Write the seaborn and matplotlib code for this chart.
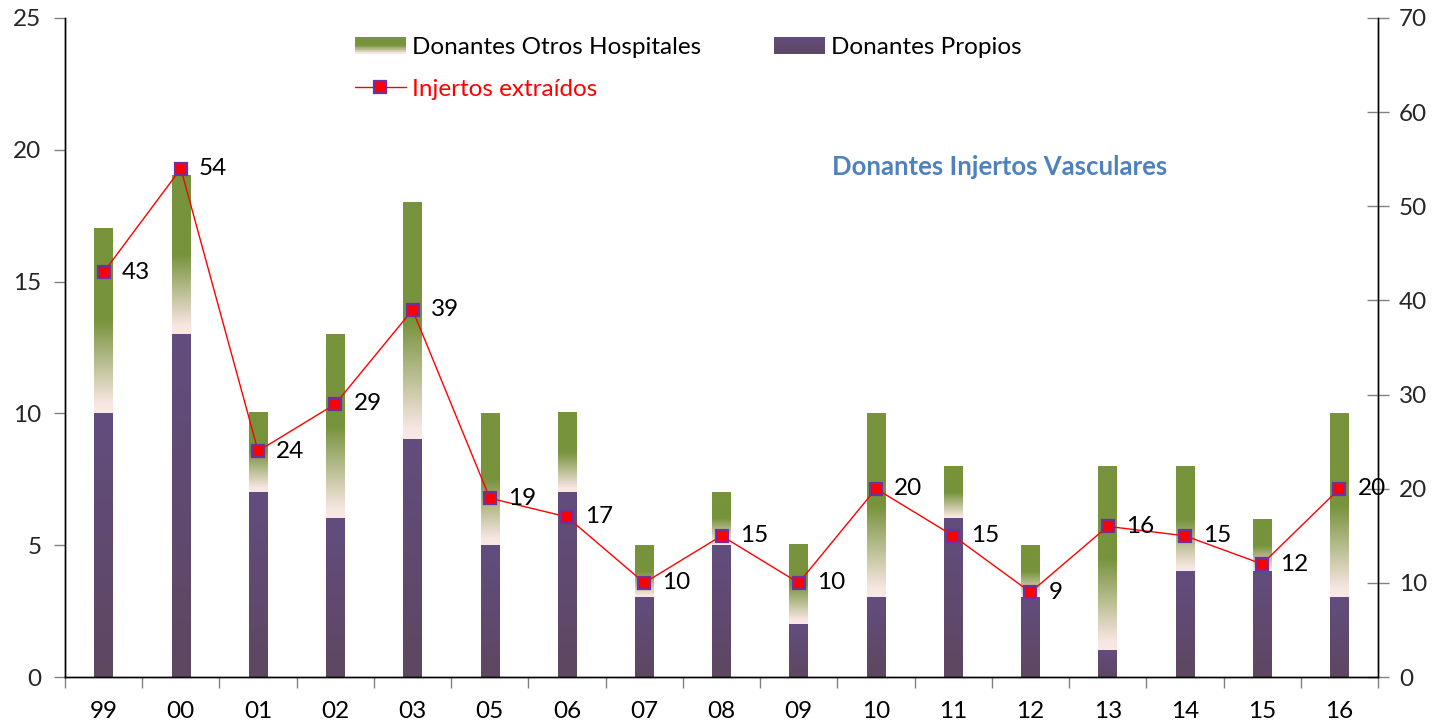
import numpy as np
import pandas as pd
import matplotlib
matplotlib.use("Agg")
import matplotlib.pyplot as plt
import seaborn as sns
from matplotlib.colors import LinearSegmentedColormap
from matplotlib.legend_handler import HandlerBase
from matplotlib.patches import Rectangle
from matplotlib.lines import Line2D

# Donors per year and grafts extracted
years = ["99", "00", "01", "02", "03", "05", "06", "07", "08",
         "09", "10", "11", "12", "13", "14", "15", "16"]
propios = [10, 13, 7, 6, 9, 5, 7, 3, 5, 2, 3, 6, 3, 1, 4, 4, 3]
otros = [7, 6, 3, 7, 9, 5, 3, 2, 2, 3, 7, 2, 2, 7, 4, 2, 7]
injertos = [43, 54, 24, 29, 39, 19, 17, 10, 15, 10, 20, 15, 9, 16, 15, 12, 20]

GREEN = "#77933C"
PURPLE = "#604C7C"
FS = 17.5

green_cmap = LinearSegmentedColormap.from_list(
    "green_fade",
    [(0.0, GREEN), (0.5, GREEN), (0.95, "#F8E6E2"), (1.0, "#F8E8E4")])
purple_cmap = LinearSegmentedColormap.from_list(
    "purple_fade", [(0.0, "#624D7F"), (1.0, "#5E4760")])

sns.set_theme(style="white")
plt.rcParams["font.family"] = ["Lato", "DejaVu Sans"]

W, H = 1436, 727
fig = plt.figure(figsize=(W / 100, H / 100), dpi=100)
ax = fig.add_axes([65 / W, 1 - 677 / H, (1378 - 65) / W, (677 - 18) / H])

df = pd.DataFrame({
    "year": years,
    "propios": propios,
    "total": np.add(propios, otros),
})
n = len(years)

sns.barplot(data=df, x="year", y="total", color=GREEN, width=0.24,
            saturation=1, errorbar=None, ax=ax)
green_patches = list(ax.patches[:n])
sns.barplot(data=df, x="year", y="propios", color=PURPLE, width=0.24,
            saturation=1, errorbar=None, ax=ax)
purple_patches = list(ax.patches[n:2 * n])

grad = np.linspace(0, 1, 256).reshape(-1, 1)


def gradient_fill(patch, cmap, bottom):
    x0 = patch.get_x()
    w = patch.get_width()
    top = patch.get_y() + patch.get_height()
    ax.imshow(grad, cmap=cmap, extent=(x0, x0 + w, bottom, top),
              origin="upper", aspect="auto", interpolation="bilinear",
              zorder=2)
    patch.set_facecolor("none")
    patch.set_edgecolor("none")


for gp, pp in zip(green_patches, purple_patches):
    gradient_fill(gp, green_cmap, pp.get_y() + pp.get_height())
    gradient_fill(pp, purple_cmap, pp.get_y())

ax.set_xlim(-0.5, n - 0.5)
ax.set_ylim(0, 25)
ax.set_yticks(range(0, 26, 5))
ax.set_xlabel("")
ax.set_ylabel("")
ax.set_xticks(np.arange(n))
ax.set_xticklabels(years)
ax.set_xticks(np.arange(n + 1) - 0.5, minor=True)
ax.tick_params(axis="x", which="major", length=0, labelsize=FS, pad=17,
               colors="black")
ax.tick_params(axis="x", which="minor", length=8, width=1, direction="out",
               bottom=True, color="#808080")
ax.tick_params(axis="y", left=True, length=8, width=1, direction="out",
               labelsize=FS, pad=9, color="#808080")

# Grafts on the secondary axis
ax2 = ax.twinx()
sns.lineplot(x=np.arange(n), y=injertos, ax=ax2, color="red", lw=1,
             marker="s", markersize=8.5, markerfacecolor="red",
             markeredgecolor="#7030A0", markeredgewidth=1.6)
ax2.set_ylim(0, 70)
ax2.set_xlim(-0.5, n - 0.5)
ax2.set_yticks(range(0, 71, 10))
ax2.set_ylabel("")
ax2.tick_params(axis="y", right=True, length=16, width=1, direction="inout",
                labelsize=FS, pad=7, color="#808080")
for i, v in enumerate(injertos):
    ax2.annotate(str(v), (i, v), xytext=(13, 0), textcoords="offset points",
                 ha="left", va="center", fontsize=FS, color="black")

for a in (ax, ax2):
    a.spines["top"].set_visible(False)
    for s in ("left", "right", "bottom"):
        a.spines[s].set_color("black")
        a.spines[s].set_linewidth(1)
    a.grid(False)


class GradientHandler(HandlerBase):
    def __init__(self, cmap, **kw):
        super().__init__(**kw)
        self.cmap = cmap

    def create_artists(self, legend, orig_handle, xdescent, ydescent,
                       width, height, fontsize, trans):
        k = 24
        arts = []
        for j in range(k):
            t = (j + 0.5) / k
            y = -ydescent + height * (1 - (j + 1) / k)
            arts.append(Rectangle((-xdescent, y), width, height / k + 0.01,
                                  facecolor=self.cmap(t), edgecolor="none",
                                  transform=trans))
        return arts


h_otros = Rectangle((0, 0), 1, 1)
h_prop = Rectangle((0, 0), 1, 1)
h_inj = Line2D([], [], color="red", lw=1, marker="s", markersize=8.5,
               markerfacecolor="red", markeredgecolor="#7030A0",
               markeredgewidth=1.6)
leg = fig.legend(
    [h_otros, h_inj, h_prop],
    ["Donantes Otros Hospitales", "Injertos extraídos", "Donantes Propios"],
    ncol=2, loc="upper left", bbox_to_anchor=(333 / W, 1 - 15 / H),
    frameon=False, fontsize=FS, handlelength=2.1, handletextpad=0.25,
    columnspacing=3.0, labelspacing=0.85,
    handler_map={h_otros: GradientHandler(green_cmap),
                 h_prop: GradientHandler(purple_cmap)})
for txt in leg.get_texts():
    txt.set_color("red" if txt.get_text() == "Injertos extraídos" else "black")

fig.text(1000 / W, 1 - 167 / H, "Donantes Injertos Vasculares", ha="center",
         va="center", fontsize=18.5, fontweight="bold", color="#4F81BD")

fig.savefig("out.png", dpi=100)
